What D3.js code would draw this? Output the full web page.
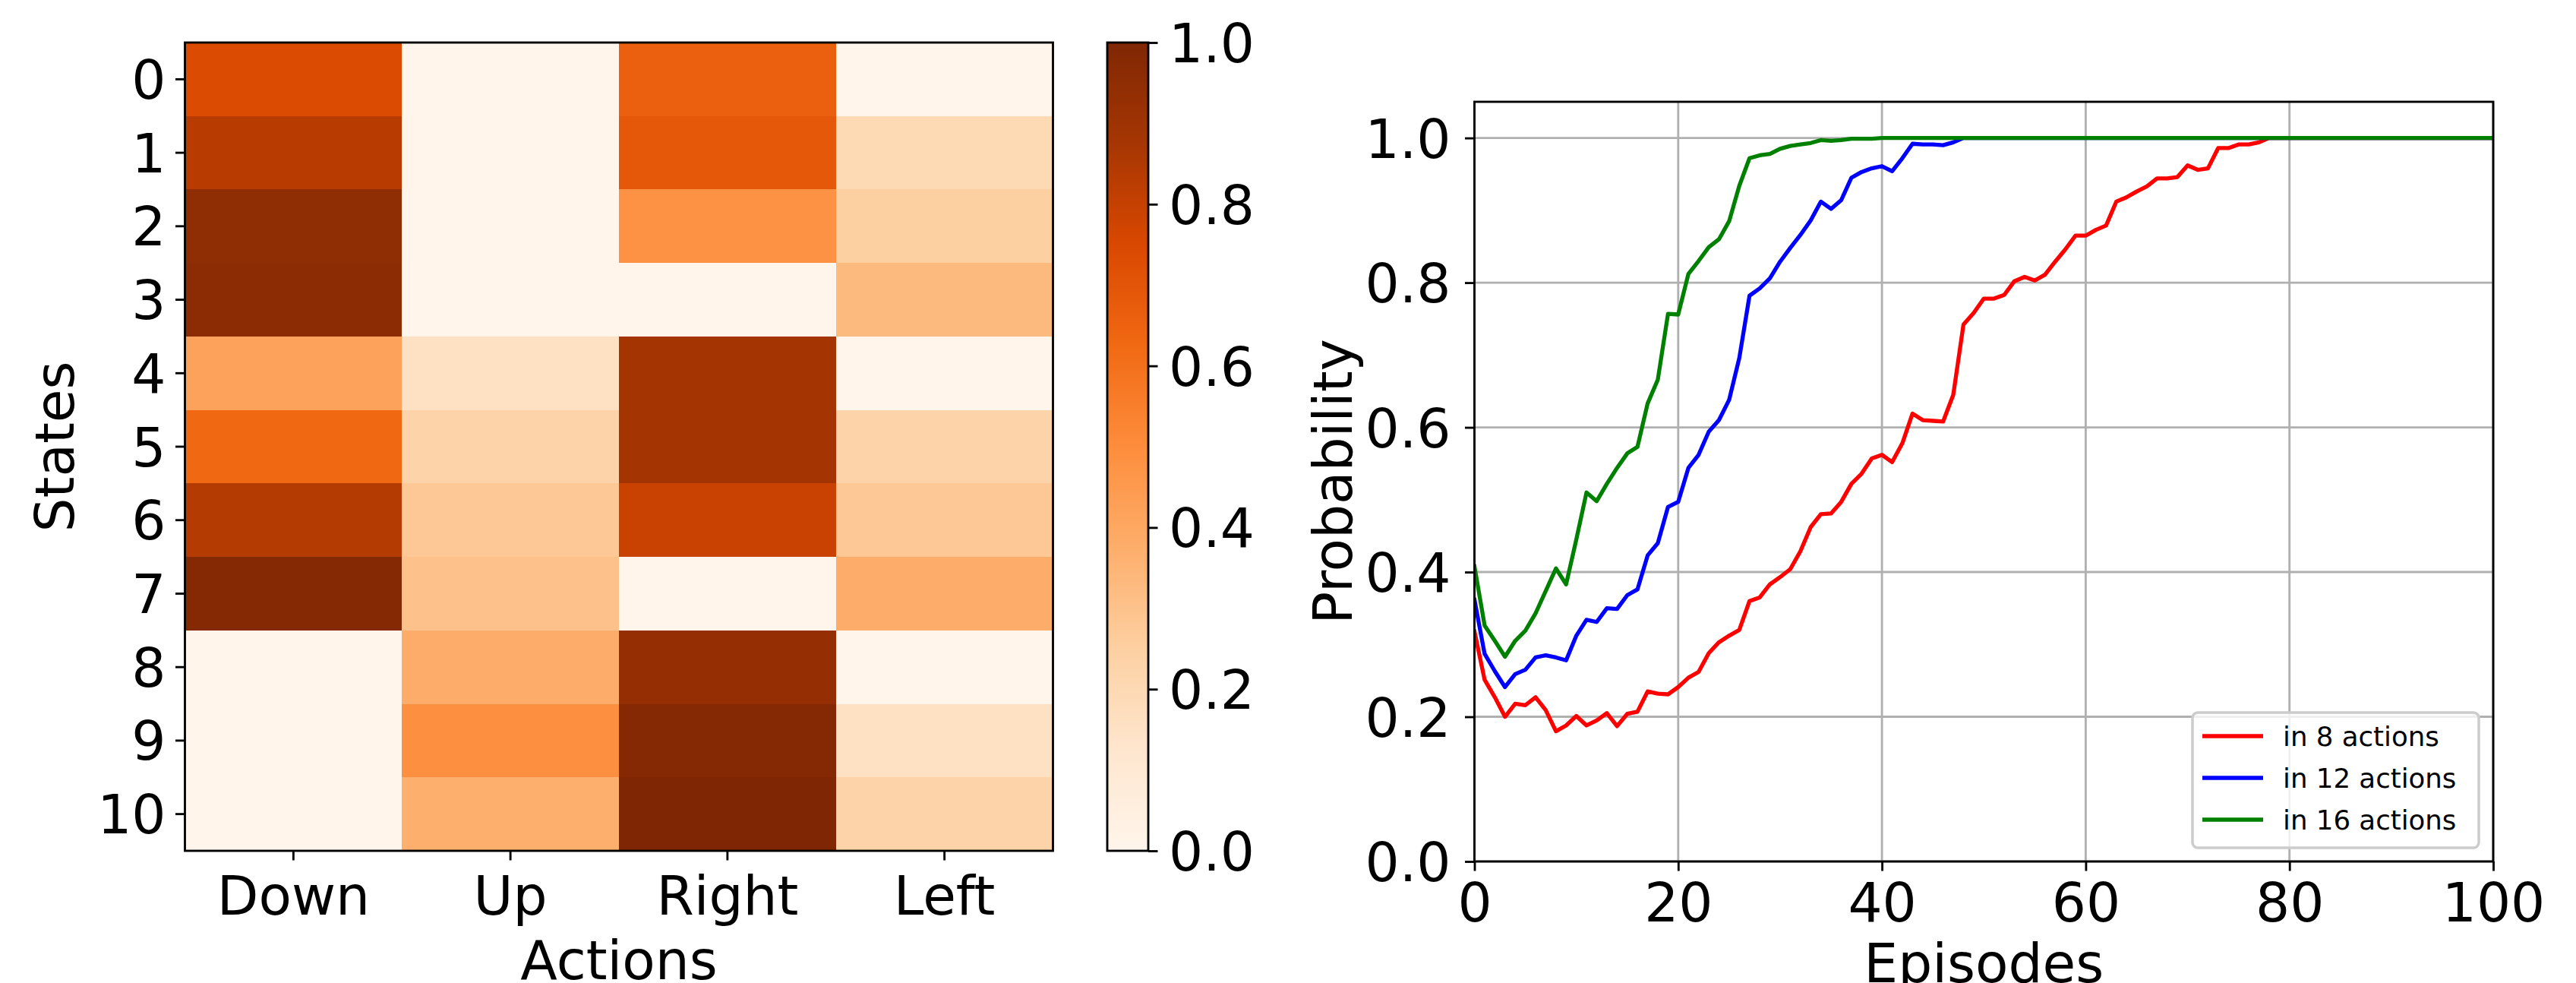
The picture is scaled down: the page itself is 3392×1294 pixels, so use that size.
<!DOCTYPE html>
<html>
<head>
<meta charset="utf-8">
<script src="https://cdn.jsdelivr.net/npm/d3@7"></script>
<style>
  html, body { margin: 0; padding: 0; background: #fff; }
  svg { display: block; }
  text { font-family: "DejaVu Sans", sans-serif; fill: #000; }
</style>
</head>
<body>
<svg id="chart" width="3392" height="1294"></svg>
<script>
// ---------------- DATA ----------------
const states = ["0","1","2","3","4","5","6","7","8","9","10"];
const actions = ["Down","Up","Right","Left"];
// heatmap values, one array per action (index = state)
const downVals  = [0.74, 0.83, 0.95, 0.96, 0.42, 0.63, 0.84, 0.98, 0, 0, 0];
const upVals    = [0, 0, 0, 0, 0.16, 0.23, 0.28, 0.30, 0.38, 0.49, 0.37];
const rightVals = [0.66, 0.69, 0.48, 0, 0.88, 0.88, 0.79, 0, 0.93, 0.98, 1.0];
const leftVals  = [0, 0.20, 0.25, 0.33, 0, 0.23, 0.28, 0.38, 0, 0.16, 0.23];
const colorbarTicks = [0, 0.2, 0.4, 0.6, 0.8, 1.0];

// line chart
const episodes = [0,1,2,3,4,5,6,7,8,9,10,11,12,13,14,15,16,17,18,19,20,21,22,23,24,25,26,27,28,29,30,31,32,33,34,35,36,37,38,39,40,41,42,43,44,45,46,47,48,49,50,51,52,53,54,55,56,57,58,59,60,61,62,63,64,65,66,67,68,69,70,71,72,73,74,75,76,77,78,79,80,81,82,83,84,85,86,87,88,89,90,91,92,93,94,95,96,97,98,99,100];
const in8 = [0.318,0.251,0.227,0.200,0.218,0.216,0.227,0.209,0.180,0.188,
             0.201,0.188,0.195,0.205,0.187,0.204,0.207,0.235,0.232,0.231,
             0.241,0.254,0.262,0.288,0.303,0.312,0.320,0.360,0.365,0.383,
             0.393,0.404,0.429,0.462,0.480,0.481,0.497,0.522,0.536,0.557,
             0.562,0.552,0.578,0.619,0.610,0.609,0.608,0.645,0.742,0.758,
             0.778,0.778,0.783,0.802,0.808,0.803,0.811,0.829,0.846,0.865,
             0.865,0.873,0.879,0.912,0.918,0.926,0.933,0.944,0.944,0.946,
             0.962,0.956,0.958,0.986,0.986,0.991,0.991,0.994,1.0,1.0,
             1.0,1.0,1.0,1.0,1.0,1.0,1.0,1.0,1.0,1.0,
             1.0,1.0,1.0,1.0,1.0,1.0,1.0,1.0,1.0,1.0,1.0];
const in12 = [0.362,0.287,0.263,0.241,0.259,0.265,0.282,0.285,0.282,0.278,
              0.312,0.334,0.331,0.350,0.349,0.368,0.376,0.423,0.440,0.490,
              0.497,0.544,0.562,0.594,0.610,0.638,0.696,0.782,0.792,0.806,
              0.829,0.848,0.866,0.886,0.912,0.902,0.914,0.945,0.953,0.958,
              0.961,0.954,0.972,0.992,0.991,0.991,0.990,0.994,1.0,1.0,
              1.0,1.0,1.0,1.0,1.0,1.0,1.0,1.0,1.0,1.0,
              1.0,1.0,1.0,1.0,1.0,1.0,1.0,1.0,1.0,1.0,
              1.0,1.0,1.0,1.0,1.0,1.0,1.0,1.0,1.0,1.0,
              1.0,1.0,1.0,1.0,1.0,1.0,1.0,1.0,1.0,1.0,
              1.0,1.0,1.0,1.0,1.0,1.0,1.0,1.0,1.0,1.0,1.0];
const in16 = [0.408,0.326,0.305,0.283,0.305,0.319,0.343,0.374,0.405,0.383,
              0.445,0.510,0.498,0.522,0.544,0.564,0.573,0.633,0.666,0.757,
              0.756,0.812,0.830,0.849,0.860,0.885,0.934,0.972,0.976,0.978,
              0.985,0.989,0.991,0.993,0.997,0.996,0.997,0.999,0.999,0.999,
              1.0,1.0,1.0,1.0,1.0,1.0,1.0,1.0,1.0,1.0,
              1.0,1.0,1.0,1.0,1.0,1.0,1.0,1.0,1.0,1.0,
              1.0,1.0,1.0,1.0,1.0,1.0,1.0,1.0,1.0,1.0,
              1.0,1.0,1.0,1.0,1.0,1.0,1.0,1.0,1.0,1.0,
              1.0,1.0,1.0,1.0,1.0,1.0,1.0,1.0,1.0,1.0,
              1.0,1.0,1.0,1.0,1.0,1.0,1.0,1.0,1.0,1.0,1.0];
const seriesNames = ["in 8 actions","in 12 actions","in 16 actions"];
const seriesColors = ["#ff0000","#0000ff","#008000"];
const xTicks = [0,20,40,60,80,100];
const yTicks = [0,0.2,0.4,0.6,0.8,1.0];

// --------------- STYLE ---------------
const FS = 71;          // tick / label font size
const LW = 2.85;        // spine width
const TICK = 12.5;      // tick length
const PAD = 12.5;       // tick pad

const svg = d3.select("#chart");
svg.append("rect").attr("width",3392).attr("height",1294).attr("fill","#fff");

// matplotlib "Oranges"
const orangesStops = ["#fff5eb","#fee6ce","#fdd0a2","#fdae6b","#fd8d3c","#f16913","#d94801","#a63603","#7f2704"];
const color = d3.scaleLinear()
  .domain(d3.range(9).map(i => i/8))
  .range(orangesStops)
  .interpolate(d3.interpolateRgb)
  .clamp(true);

// ---------------- HEATMAP ----------------
const hm = {left: 243.5, right: 1386.5, top: 56, bottom: 1120};
const xh = d3.scaleBand().domain(actions).range([hm.left, hm.right]).padding(0);
const yh = d3.scaleBand().domain(states).range([hm.top, hm.bottom]).padding(0);
const valsByAction = {Down: downVals, Up: upVals, Right: rightVals, Left: leftVals};
const cells = [];
actions.forEach(a => states.forEach((s, i) => cells.push({a, s, v: valsByAction[a][i]})));

const gH = svg.append("g");
gH.selectAll("rect.cell").data(cells).join("rect")
  .attr("class","cell")
  .attr("x", d => xh(d.a))
  .attr("y", d => yh(d.s))
  .attr("width", xh.bandwidth() + 0.6)
  .attr("height", yh.bandwidth() + 0.6)
  .attr("fill", d => color(d.v))
  .attr("shape-rendering","crispEdges");
gH.append("rect")
  .attr("x", hm.left).attr("y", hm.top)
  .attr("width", hm.right - hm.left).attr("height", hm.bottom - hm.top)
  .attr("fill","none").attr("stroke","#000").attr("stroke-width", LW);

function styleAxis(g) {
  g.select(".domain").remove();
  g.selectAll(".tick line").attr("stroke","#000").attr("stroke-width", LW);
  g.selectAll(".tick text").attr("font-size", FS).attr("fill","#000")
    .attr("font-family","DejaVu Sans");
}

const axHL = gH.append("g").attr("transform",`translate(${hm.left},0)`)
  .call(d3.axisLeft(yh).tickSize(TICK).tickPadding(PAD));
styleAxis(axHL);
axHL.selectAll(".tick text").attr("dy","0.36em");

const axHB = gH.append("g").attr("transform",`translate(0,${hm.bottom})`)
  .call(d3.axisBottom(xh).tickSize(TICK).tickPadding(PAD));
styleAxis(axHB);
axHB.selectAll(".tick text").attr("dy", null).attr("y", 0)
  .attr("transform", `translate(0,${1204 - hm.bottom})`);

gH.append("text").text("Actions")
  .attr("x", (hm.left + hm.right)/2).attr("y", 1289)
  .attr("text-anchor","middle").attr("font-size", FS);
gH.append("text").text("States")
  .attr("transform", `translate(97,${(hm.top + hm.bottom)/2}) rotate(-90)`)
  .attr("text-anchor","middle").attr("font-size", FS);

// ---------------- COLORBAR ----------------
const cb = {left: 1458, right: 1512, top: 56, bottom: 1120};
const defs = svg.append("defs");
const grad = defs.append("linearGradient").attr("id","cbgrad")
  .attr("x1","0").attr("y1","1").attr("x2","0").attr("y2","0");
grad.selectAll("stop").data(orangesStops).join("stop")
  .attr("offset", (d,i) => (i/8*100) + "%")
  .attr("stop-color", d => d);
svg.append("rect")
  .attr("x", cb.left).attr("y", cb.top)
  .attr("width", cb.right - cb.left).attr("height", cb.bottom - cb.top)
  .attr("fill","url(#cbgrad)")
  .attr("stroke","#000").attr("stroke-width", LW);
const ycb = d3.scaleLinear().domain([0,1]).range([cb.bottom, cb.top]);
const axCB = svg.append("g").attr("transform",`translate(${cb.right},0)`)
  .call(d3.axisRight(ycb).tickValues(colorbarTicks).tickFormat(d3.format(".1f"))
        .tickSize(TICK).tickPadding(PAD + 2));
styleAxis(axCB);
axCB.selectAll(".tick text").attr("dy","0.36em");

// ---------------- LINE CHART ----------------
const lc = {left: 1941.5, right: 3283, top: 134, bottom: 1134};
const xl = d3.scaleLinear().domain([0,100]).range([lc.left, lc.right]);
const yl = d3.scaleLinear().domain([0,1.05]).range([lc.bottom, lc.top]);
const gL = svg.append("g");

// grid
gL.append("g").selectAll("line.vg").data(xTicks).join("line")
  .attr("x1", d => xl(d)).attr("x2", d => xl(d))
  .attr("y1", lc.top).attr("y2", lc.bottom)
  .attr("stroke","#b0b0b0").attr("stroke-width", LW);
gL.append("g").selectAll("line.hg").data(yTicks).join("line")
  .attr("x1", lc.left).attr("x2", lc.right)
  .attr("y1", d => yl(d)).attr("y2", d => yl(d))
  .attr("stroke","#b0b0b0").attr("stroke-width", LW);

// lines
const allSeries = [in8, in12, in16];
const lineGen = d3.line().x((d,i) => xl(episodes[i])).y(d => yl(d));
defs.append("clipPath").attr("id","lcclip").append("rect")
  .attr("x", lc.left).attr("y", lc.top)
  .attr("width", lc.right - lc.left).attr("height", lc.bottom - lc.top);
gL.append("g").attr("clip-path","url(#lcclip)")
  .selectAll("path.series").data(allSeries).join("path")
  .attr("class","series")
  .attr("d", d => lineGen(d))
  .attr("fill","none")
  .attr("stroke", (d,i) => seriesColors[i])
  .attr("stroke-width", 5.3)
  .attr("stroke-linejoin","round")
  .attr("stroke-linecap","square");

// spines
gL.append("rect")
  .attr("x", lc.left).attr("y", lc.top)
  .attr("width", lc.right - lc.left).attr("height", lc.bottom - lc.top)
  .attr("fill","none").attr("stroke","#000").attr("stroke-width", LW);

const axLL = gL.append("g").attr("transform",`translate(${lc.left},0)`)
  .call(d3.axisLeft(yl).tickValues(yTicks).tickFormat(d3.format(".1f"))
        .tickSize(TICK).tickPadding(PAD + 6));
styleAxis(axLL);
axLL.selectAll(".tick text").attr("dy","0.36em");

const axLB = gL.append("g").attr("transform",`translate(0,${lc.bottom})`)
  .call(d3.axisBottom(xl).tickValues(xTicks).tickFormat(d3.format("d"))
        .tickSize(TICK).tickPadding(PAD));
styleAxis(axLB);
axLB.selectAll(".tick text").attr("dy", null).attr("y", 0)
  .attr("transform", `translate(0,${1213 - lc.bottom})`);

gL.append("text").text("Episodes")
  .attr("x", (lc.left + lc.right)/2).attr("y", 1293)
  .attr("text-anchor","middle").attr("font-size", FS);
gL.append("text").text("Probability")
  .attr("transform", `translate(1780,${(lc.top + lc.bottom)/2}) rotate(-90)`)
  .attr("text-anchor","middle").attr("font-size", FS);

// legend
const lg = {left: 2887, top: 938, right: 3264, bottom: 1116};
const gLeg = gL.append("g");
gLeg.append("rect")
  .attr("x", lg.left).attr("y", lg.top)
  .attr("width", lg.right - lg.left).attr("height", lg.bottom - lg.top)
  .attr("rx", 7).attr("ry", 7)
  .attr("fill","#fff").attr("fill-opacity", 0.8)
  .attr("stroke","#cccccc").attr("stroke-width", 3.5);
const legY = d3.scalePoint().domain(seriesNames).range([969, 1079]);
const legItems = gLeg.selectAll("g.item").data(seriesNames).join("g").attr("class","item");
legItems.append("line")
  .attr("x1", 2900).attr("x2", 2980)
  .attr("y1", d => legY(d)).attr("y2", d => legY(d))
  .attr("stroke", (d,i) => seriesColors[i]).attr("stroke-width", 5.3);
legItems.append("text")
  .attr("x", 3006).attr("y", d => legY(d) + 13)
  .attr("font-size", 35.6)
  .text(d => d);
</script>
</body>
</html>
